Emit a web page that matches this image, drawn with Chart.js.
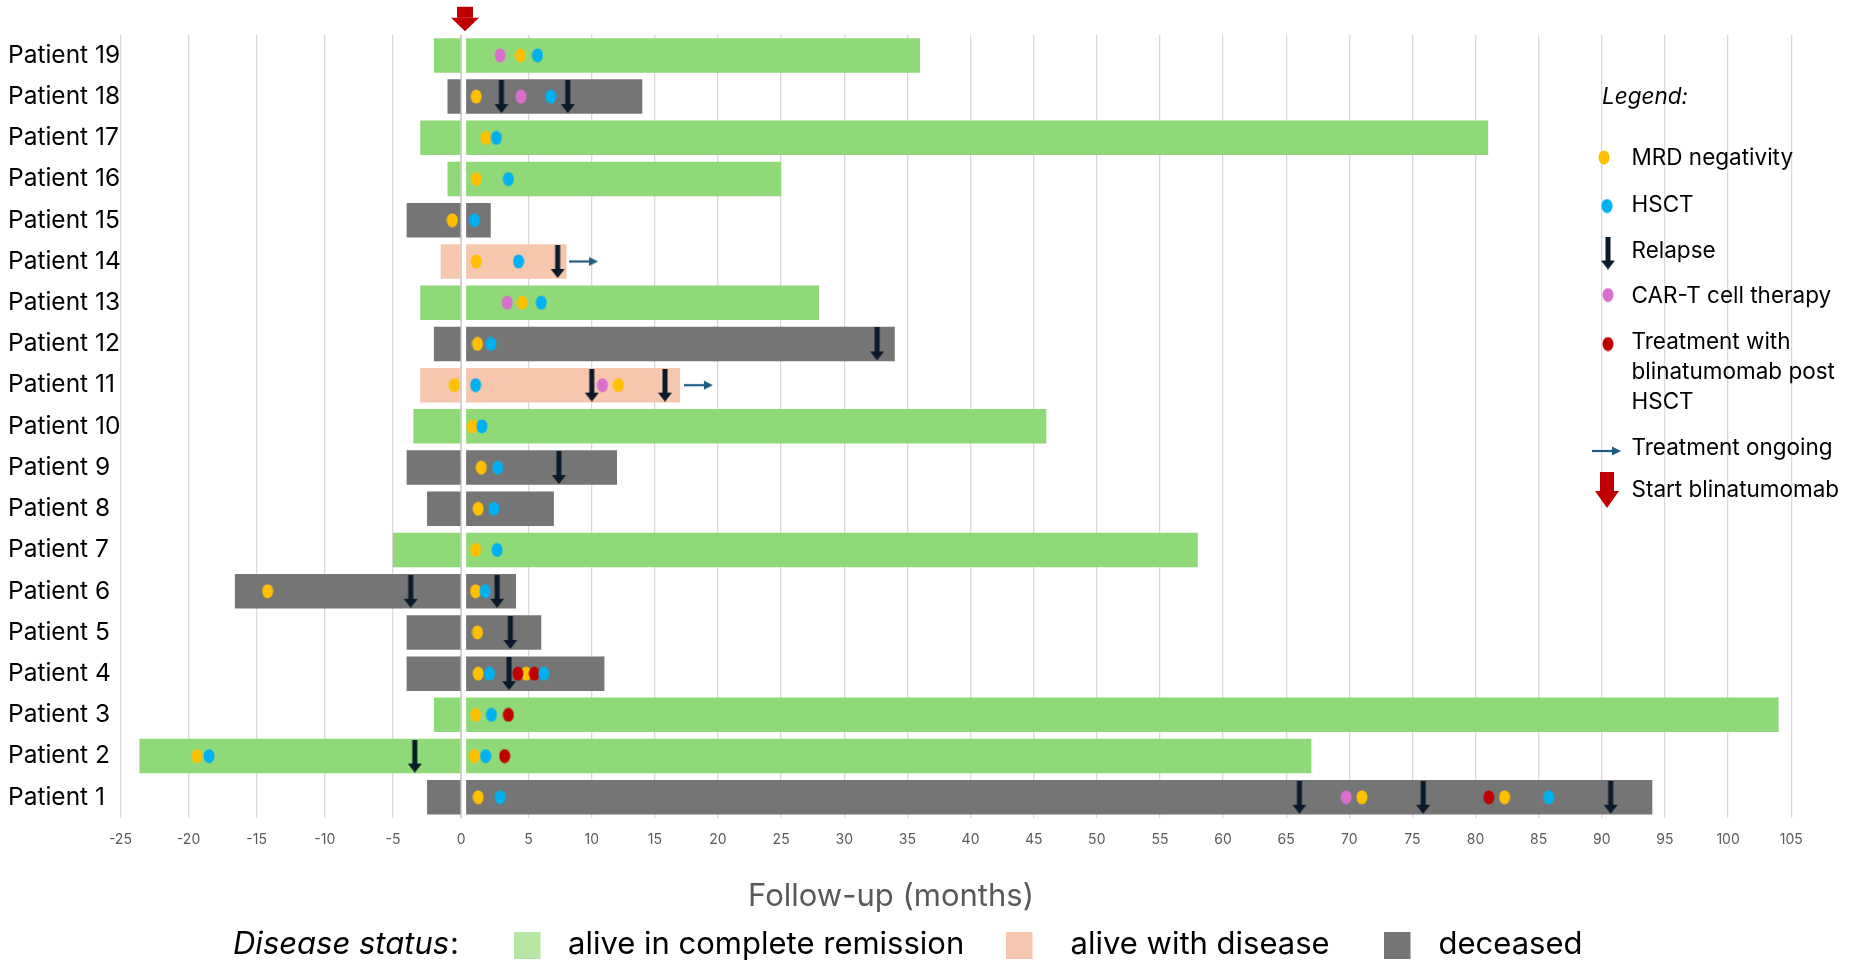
<!DOCTYPE html>
<html>
<head>
<meta charset="utf-8">
<title>Swimmer plot – blinatumomab</title>
<script src="https://cdn.jsdelivr.net/npm/chart.js@4.4.1/dist/chart.umd.min.js"></script>
<style>
  html, body { margin: 0; padding: 0; background: #ffffff; }
  #wrap { position: relative; width: 1851px; height: 962px; }
</style>
</head>
<body>
<div id="wrap"><canvas id="swimmer"></canvas></div>
<script>
// ---- data -------------------------------------------------------------
const patients = ['Patient 19', 'Patient 18', 'Patient 17', 'Patient 16', 'Patient 15',
  'Patient 14', 'Patient 13', 'Patient 12', 'Patient 11', 'Patient 10', 'Patient 9',
  'Patient 8', 'Patient 7', 'Patient 6', 'Patient 5', 'Patient 4', 'Patient 3',
  'Patient 2', 'Patient 1'];

// cr = alive in complete remission, awd = alive with disease, dec = deceased
const diseaseStatus = ['cr', 'dec', 'cr', 'cr', 'dec', 'awd', 'cr', 'dec', 'awd', 'cr',
  'dec', 'dec', 'cr', 'dec', 'dec', 'dec', 'cr', 'cr', 'dec'];

// months from diagnosis to the start of blinatumomab (negative side)
const monthsBefore = [-2, -1, -3, -1, -4, -1.5, -3, -2, -3, -3.5, -4, -2.5, -5, -16.6,
  -4, -4, -2, -23.6, -2.5];

// follow-up after the start of blinatumomab (months)
const followUp = [36, 14, 81, 25, 2, 8, 28, 34, 17, 46, 12, 7, 58, 4, 6, 11, 104, 67, 94];

// events: [patient, month]
const mrdNegativity = [
  ['Patient 19', 4.35], ['Patient 18', 0.85], ['Patient 17', 1.6], ['Patient 16', 0.85],
  ['Patient 15', -0.65], ['Patient 14', 0.85], ['Patient 13', 4.5], ['Patient 12', 0.95],
  ['Patient 11', -0.5], ['Patient 11', 12.1], ['Patient 10', 0.55], ['Patient 9', 1.25],
  ['Patient 8', 1.0], ['Patient 7', 0.8], ['Patient 6', -14.2], ['Patient 6', 0.8],
  ['Patient 5', 0.95], ['Patient 4', 1.0], ['Patient 4', 4.8], ['Patient 3', 0.8],
  ['Patient 2', -19.4], ['Patient 2', 0.7], ['Patient 1', 1.0], ['Patient 1', 71.0],
  ['Patient 1', 82.3]
];
const hsct = [
  ['Patient 19', 5.7], ['Patient 18', 6.75], ['Patient 17', 2.45], ['Patient 16', 3.4],
  ['Patient 15', 0.7], ['Patient 14', 4.2], ['Patient 13', 6.0], ['Patient 12', 2.0],
  ['Patient 11', 0.8], ['Patient 10', 1.3], ['Patient 9', 2.55], ['Patient 8', 2.25],
  ['Patient 7', 2.5], ['Patient 6', 1.55], ['Patient 4', 1.9], ['Patient 4', 6.2],
  ['Patient 3', 2.05], ['Patient 2', -18.5], ['Patient 2', 1.6], ['Patient 1', 2.75],
  ['Patient 1', 85.8]
];
const relapse = [
  ['Patient 18', 2.85], ['Patient 18', 8.1], ['Patient 14', 7.3], ['Patient 12', 32.6],
  ['Patient 11', 10.0], ['Patient 11', 15.8], ['Patient 9', 7.4], ['Patient 6', -3.7],
  ['Patient 6', 2.5], ['Patient 5', 3.55], ['Patient 4', 3.45], ['Patient 2', -3.4],
  ['Patient 1', 66.05], ['Patient 1', 75.85], ['Patient 1', 90.7]
];
const carT = [
  ['Patient 19', 2.75], ['Patient 18', 4.4], ['Patient 13', 3.3], ['Patient 11', 10.85],
  ['Patient 1', 69.75]
];
const blinaPostHsct = [
  ['Patient 4', 4.15], ['Patient 4', 5.45], ['Patient 3', 3.4], ['Patient 2', 3.1],
  ['Patient 1', 81.05]
];
const treatmentOngoing = [['Patient 14', 8.2], ['Patient 11', 17.3]];

const xTicksBefore = [-25, -20, -15, -10, -5, 0];
const xTicksAfter = [5, 10, 15, 20, 25, 30, 35, 40, 45, 50, 55, 60, 65, 70, 75, 80, 85, 90, 95, 100, 105];

// ---- styles -----------------------------------------------------------
const FONT = 'Inter, "Liberation Sans", Arial, sans-serif';
const barColors = { cr: '#90d978', awd: '#f6c7ad', dec: '#757575' };
const swatchColors = { cr: '#b5e6a3', awd: '#f5c6ad', dec: '#757575' };
const statusNames = { cr: 'alive in complete remission', awd: 'alive with disease', dec: 'deceased' };
const COLOR_MRD = '#ffc000', COLOR_HSCT = '#00b0f0', COLOR_CART = '#d86fcd', COLOR_BLINA = '#c00000';
const COLOR_RELAPSE = '#0b1a2a', COLOR_ONGOING = '#1f5d80', COLOR_START = '#c00000';

function makeCanvas(w, h, paint) {
  const c = document.createElement('canvas');
  c.width = w; c.height = h;
  paint(c.getContext('2d'), w, h);
  return c;
}
function dotImage(color) {
  return makeCanvas(12, 15, (g, w, h) => {
    g.fillStyle = color;
    g.beginPath();
    g.ellipse(w / 2, h / 2, 5.5, 7, 0, 0, Math.PI * 2);
    g.fill();
  });
}
function relapseImage() {
  return makeCanvas(16, 33, (g) => {
    g.fillStyle = COLOR_RELAPSE;
    g.fillRect(5.5, 0, 5, 26);
    g.beginPath();
    g.moveTo(1, 24); g.lineTo(15, 24); g.lineTo(8, 33); g.closePath();
    g.fill();
  });
}
function ongoingImage() {
  // anchored at its left end: the drawn arrow sits in the right half
  return makeCanvas(60, 10, (g) => {
    g.strokeStyle = COLOR_ONGOING; g.fillStyle = COLOR_ONGOING;
    g.lineWidth = 2.2;
    g.beginPath(); g.moveTo(30, 5); g.lineTo(51, 5); g.stroke();
    g.beginPath(); g.moveTo(50, 0.5); g.lineTo(59, 5); g.lineTo(50, 9.5); g.closePath(); g.fill();
  });
}
const imgMrd = dotImage(COLOR_MRD), imgHsct = dotImage(COLOR_HSCT),
      imgCart = dotImage(COLOR_CART), imgBlina = dotImage(COLOR_BLINA),
      imgRelapse = relapseImage(), imgOngoing = ongoingImage();

// ---- datasets ---------------------------------------------------------
const barCommon = {
  type: 'bar', yAxisID: 'y', grouped: false, barPercentage: 0.837, categoryPercentage: 1,
  borderWidth: 0, order: 20,
  backgroundColor: diseaseStatus.map(s => barColors[s])
};
const datasets = [
  Object.assign({}, barCommon, {
    label: 'before blinatumomab', xAxisID: 'xl',
    data: monthsBefore.map(m => [m, -0.05])
  }),
  Object.assign({}, barCommon, {
    label: 'after blinatumomab', xAxisID: 'xr',
    data: followUp.map(m => [0.05, m])
  })
];

function addEvents(label, events, image, order) {
  const sides = [[events.filter(e => e[1] < 0), 'xl'], [events.filter(e => e[1] >= 0), 'xr']];
  sides.forEach(([list, axis]) => {
    if (!list.length) return;
    datasets.push({
      type: 'scatter', label, xAxisID: axis, yAxisID: 'y', order,
      data: list.map(([p, m]) => ({ x: m, y: p })),
      pointStyle: image, pointRadius: 6, pointHoverRadius: 6, showLine: false
    });
  });
}
addEvents('MRD negativity', mrdNegativity, imgMrd, 6);
addEvents('CAR-T cell therapy', carT, imgCart, 5);
addEvents('Treatment with blinatumomab post HSCT', blinaPostHsct, imgBlina, 4);
addEvents('HSCT', hsct, imgHsct, 3);
addEvents('Treatment ongoing', treatmentOngoing, imgOngoing, 2);
addEvents('Relapse', relapse, imgRelapse, 1);

// ---- scales -----------------------------------------------------------
function noPadding(scale) {
  scale.paddingLeft = 0; scale.paddingRight = 0; scale.paddingTop = 0; scale.paddingBottom = 0;
}
function monthAxis(min, max, weight, tickValues, isBefore) {
  return {
    type: 'linear', position: 'bottom', stack: 'months', stackWeight: weight,
    min, max, offset: false,
    afterBuildTicks(scale) { scale.ticks = tickValues.map(v => ({ value: v })); },
    afterFit(scale) { scale.height = 40; noPadding(scale); },
    ticks: {
      color: '#595959', font: { family: FONT, size: 14 }, padding: 13,
      maxRotation: 0, minRotation: 0, autoSkip: false
    },
    grid: {
      drawTicks: false,
      color: ctx => (isBefore && ctx.tick && ctx.tick.value === 0) ? '#d2d2d2' : '#dadada',
      lineWidth: ctx => (isBefore && ctx.tick && ctx.tick.value === 0) ? 2 : 1.3
    },
    border: { display: false }
  };
}

// ---- decorations: start arrow and legends ------------------------------
function drawBlockArrow(ctx, cx, top, shaftW, shaftH, headW, headH, color) {
  ctx.save();
  ctx.fillStyle = color;
  ctx.fillRect(cx - shaftW / 2, top, shaftW, shaftH);
  ctx.beginPath();
  ctx.moveTo(cx - headW / 2, top + shaftH);
  ctx.lineTo(cx + headW / 2, top + shaftH);
  ctx.lineTo(cx, top + shaftH + headH);
  ctx.closePath();
  ctx.fill();
  ctx.restore();
}

const decorPlugin = {
  id: 'swimmerDecor',
  afterDraw(chart) {
    const ctx = chart.ctx;
    const area = chart.chartArea;
    ctx.save();

    // start of blinatumomab
    drawBlockArrow(ctx, chart.scales.xr.getPixelForValue(0) - 0.5, area.top - 28, 16, 11, 28, 13.5, COLOR_START);

    // side legend
    ctx.fillStyle = '#000';
    ctx.textBaseline = 'middle';
    ctx.textAlign = 'left';
    ctx.font = 'italic 22.5px ' + FONT;
    ctx.fillText('Legend:', 1602, 97);
    ctx.font = '22.5px ' + FONT;
    const tx = 1631.5;
    const put = (img, x, y) => ctx.drawImage(img, x - img.width / 2, y - img.height / 2);
    put(imgMrd, 1604, 157.5);  ctx.fillText('MRD negativity', tx, 158.5);
    put(imgHsct, 1607, 206);   ctx.fillText('HSCT', tx, 205);
    put(imgRelapse, 1608, 253); ctx.fillText('Relapse', tx, 251.5);
    put(imgCart, 1608, 295);   ctx.fillText('CAR-T cell therapy', tx, 296.5);
    put(imgBlina, 1608, 344);
    ctx.fillText('Treatment with', tx, 342.5);
    ctx.fillText('blinatumomab post', tx, 372.5);
    ctx.fillText('HSCT', tx, 402);
    ctx.drawImage(imgOngoing, 1592 - imgOngoing.width / 2, 451 - imgOngoing.height / 2);
    ctx.fillText('Treatment ongoing', tx, 448.5);
    drawBlockArrow(ctx, 1607, 472, 14, 19, 24, 17, COLOR_START);
    ctx.fillText('Start blinatumomab', tx, 490.5);

    // axis title
    ctx.fillStyle = '#595959';
    ctx.textAlign = 'center';
    ctx.textBaseline = 'alphabetic';
    ctx.font = '31px ' + FONT;
    ctx.fillText('Follow-up (months)', 891, 905.5);

    // disease status legend
    ctx.textAlign = 'left';
    ctx.fillStyle = '#000';
    ctx.font = 'italic 31px ' + FONT;
    ctx.fillText('Disease status', 233, 954);
    const w = ctx.measureText('Disease status').width;
    ctx.font = '31px ' + FONT;
    ctx.fillText(':', 233 + w + 1, 954);
    const items = [['cr', 514, 568], ['awd', 1006, 1070.5], ['dec', 1384, 1438.5]];
    items.forEach(([key, sx, lx]) => {
      ctx.fillStyle = swatchColors[key];
      ctx.fillRect(sx, 932, 26.5, 27);
      ctx.fillStyle = '#000';
      ctx.fillText(statusNames[key], lx, 954);
    });
    ctx.restore();
  }
};

// ---- chart ------------------------------------------------------------
new Chart(document.getElementById('swimmer'), {
  type: 'bar',
  data: { labels: patients, datasets },
  options: {
    indexAxis: 'y',
    responsive: true,
    maintainAspectRatio: false,
    devicePixelRatio: 1,
    animation: false,
    events: [],
    layout: { padding: { left: 8, right: 59.8, top: 34.8, bottom: 104.1 } },
    plugins: { legend: { display: false }, tooltip: { enabled: false } },
    scales: {
      y: {
        type: 'category', labels: patients, position: 'left', offset: true,
        grid: { display: false }, border: { display: false },
        afterFit(scale) { scale.width = 112.4; noPadding(scale); },
        ticks: { color: '#000', font: { family: FONT, size: 24.5 }, crossAlign: 'far', padding: 0, autoSkip: false }
      },
      xl: monthAxis(-25, 0.32, 345.1, xTicksBefore, true),
      xr: monthAxis(0, 105, 1325.7, xTicksAfter, false)
    }
  },
  plugins: [decorPlugin]
});
</script>
</body>
</html>
